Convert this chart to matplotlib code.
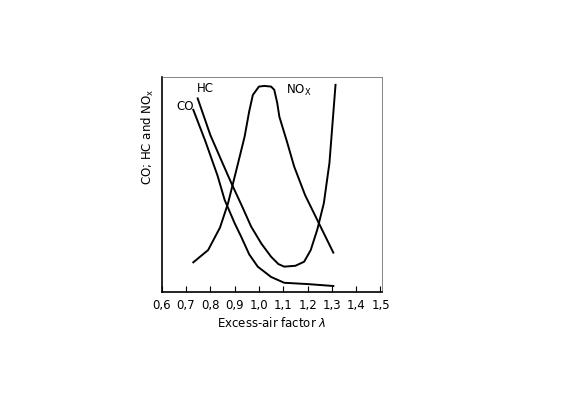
import matplotlib
matplotlib.use("Agg")
import matplotlib.pyplot as plt

# values (y in relative units 0..1)
co_x = [0.730, 0.78, 0.83, 0.859, 0.90, 0.927, 0.96, 0.995, 1.05, 1.104, 1.2, 1.306]
co_y = [0.847, 0.70, 0.54, 0.428, 0.32, 0.257, 0.175, 0.118, 0.07, 0.043, 0.037, 0.028]

hc_x = [0.748, 0.80, 0.85, 0.887, 0.93, 0.968, 1.01, 1.05, 1.08, 1.104, 1.15, 1.186, 1.213, 1.24, 1.267, 1.29, 1.315]
hc_y = [0.90, 0.73, 0.60, 0.505, 0.40, 0.304, 0.225, 0.164, 0.13, 0.118, 0.122, 0.141, 0.195, 0.29, 0.413, 0.60, 0.963]

nox_x = [0.730, 0.791, 0.84, 0.873, 0.91, 0.941, 0.96, 0.975, 1.0, 1.022, 1.05, 1.063, 1.075, 1.084, 1.115, 1.145, 1.19, 1.24, 1.306]
nox_y = [0.138, 0.195, 0.30, 0.413, 0.58, 0.722, 0.84, 0.916, 0.955, 0.958, 0.955, 0.94, 0.88, 0.815, 0.70, 0.583, 0.45, 0.335, 0.183]

xticks = [0.6, 0.7, 0.8, 0.9, 1.0, 1.1, 1.2, 1.3, 1.4, 1.5]

fig = plt.figure(figsize=(5.62, 4.09), dpi=100)
ax = fig.add_axes([0.2877, 0.286, 0.3915, 0.526])

for xs, ys in [(co_x, co_y), (hc_x, hc_y), (nox_x, nox_y)]:
    ax.plot(xs, ys, color="black", lw=1.4, solid_joinstyle="round")

ax.set_xlim(0.607, 1.505)
ax.set_ylim(0, 1)
ax.set_xticks(xticks)
ax.set_xticklabels([f"{t:.1f}".replace(".", ",") for t in xticks], fontsize=8.5)
ax.set_yticks([])
ax.tick_params(axis="x", direction="in", length=4, pad=5)
for s in ["top", "right"]:
    ax.spines[s].set_linewidth(0.5)
    ax.spines[s].set_color("#555555")
for s in ["left", "bottom"]:
    ax.spines[s].set_linewidth(1.2)

ax.text(0.66, 0.845, "CO", fontsize=8.5)
ax.text(0.745, 0.93, "HC", fontsize=8.5)
ax.text(1.11, 0.92, "NO$_\\mathrm{X}$", fontsize=8.5)

ax.set_xlabel("Excess-air factor $\\lambda$", fontsize=8.5, labelpad=3)
ax.set_ylabel("CO; HC and NO$_\\mathrm{x}$", fontsize=8.5, labelpad=4, y=0.72)

fig.savefig("out.png", dpi=100)
